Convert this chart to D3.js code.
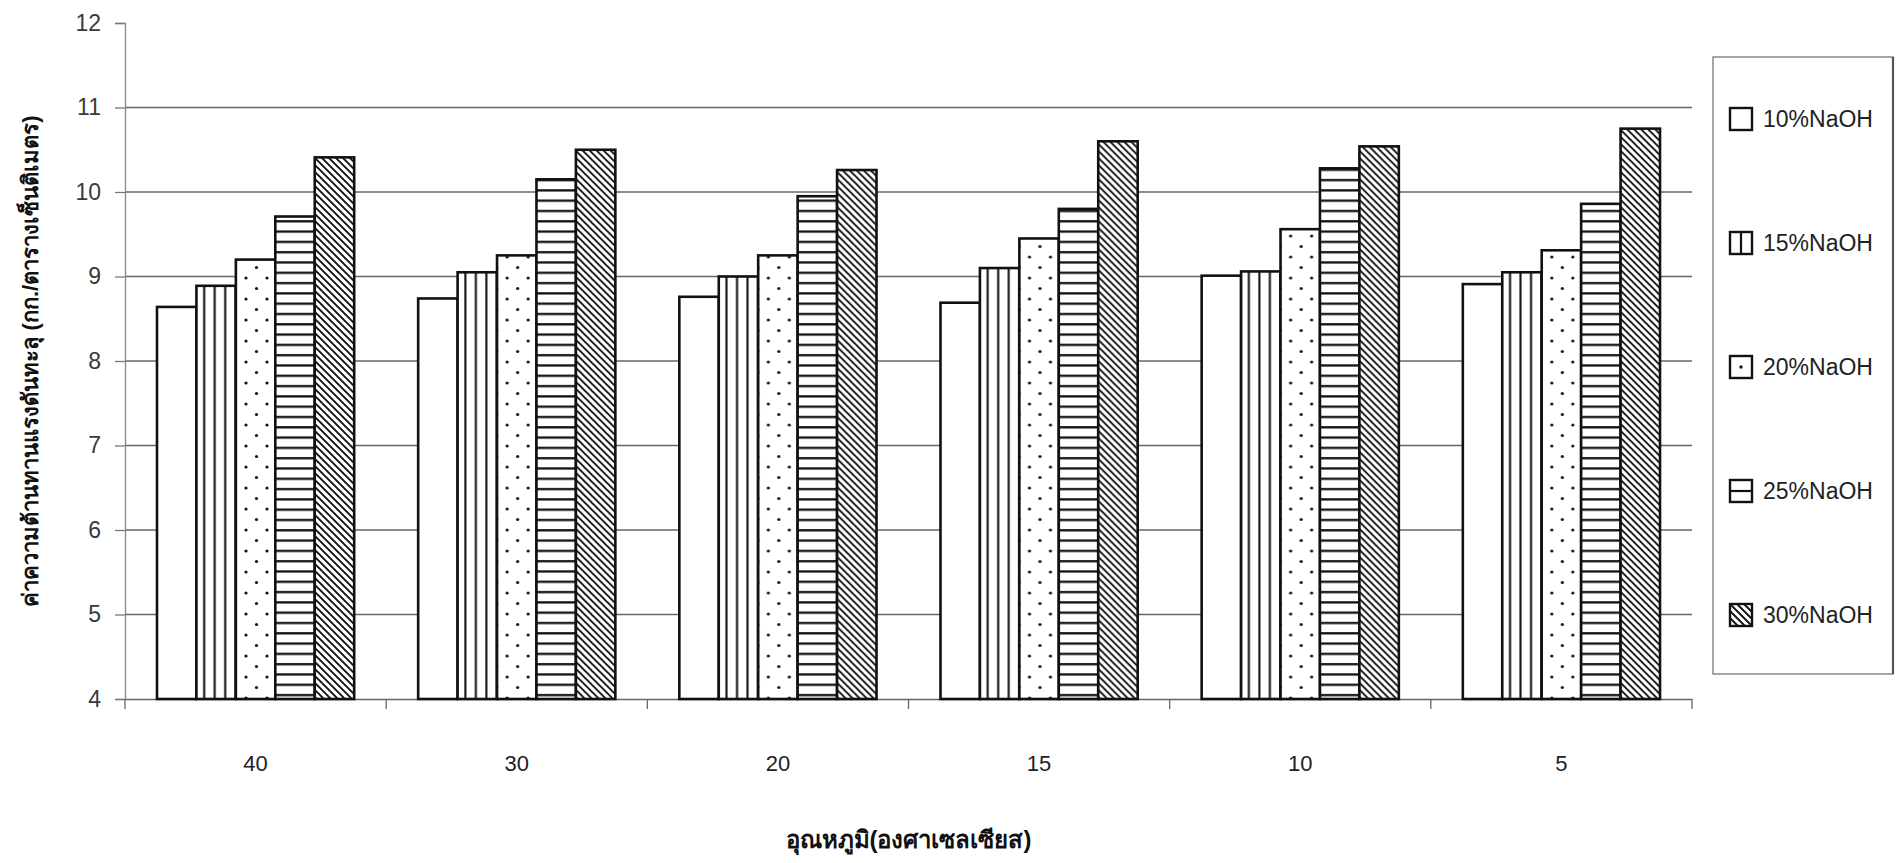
<!DOCTYPE html>
<html>
<head>
<meta charset="utf-8">
<script src="https://cdn.jsdelivr.net/npm/d3@7"></script>
<style>
  body { margin: 0; background: #fff; }
  svg { display: block; }
  text { font-family: Arial, "Liberation Sans", "Noto Sans", sans-serif; }
</style>
</head>
<body>
<svg id="chart" width="1900" height="863"></svg>
<script>
// Burst strength (kg/cm²) by soaking temperature for five NaOH concentrations
const temperatures = ["40", "30", "20", "15", "10", "5"];
const seriesNames = ["10%NaOH", "15%NaOH", "20%NaOH", "25%NaOH", "30%NaOH"];
const naoh10 = [8.64, 8.74, 8.76, 8.69, 9.01, 8.91];
const naoh15 = [8.89, 9.05, 9.00, 9.10, 9.06, 9.05];
const naoh20 = [9.20, 9.25, 9.25, 9.45, 9.56, 9.31];
const naoh25 = [9.71, 10.15, 9.95, 9.80, 10.28, 9.86];
const naoh30 = [10.41, 10.50, 10.26, 10.60, 10.54, 10.75];
const yTicks = [4, 5, 6, 7, 8, 9, 10, 11, 12];
const xTitle = "อุณหภูมิ(องศาเซลเซียส)";
const yTitle = "ค่าความต้านทานแรงดันทะลุ (กก./ตารางเซ็นติเมตร)";

const seriesValues = [naoh10, naoh15, naoh20, naoh25, naoh30];
const patternIds = ["none", "pVert", "pDots", "pHoriz", "pDiag"];

const svg = d3.select("#chart");
const plot = { left: 125, right: 1692, top: 23, bottom: 699 };

// ---- fill patterns ----
const defs = svg.append("defs");
const pv = defs.append("pattern").attr("id", "pVert").attr("patternUnits", "userSpaceOnUse")
  .attr("width", 10.5).attr("height", 10);
pv.append("rect").attr("width", 10.5).attr("height", 10).attr("fill", "#fff");
pv.append("line").attr("x1", 5.2).attr("x2", 5.2).attr("y1", 0).attr("y2", 10)
  .attr("stroke", "#111").attr("stroke-width", 2.1);

const pd = defs.append("pattern").attr("id", "pDots").attr("patternUnits", "userSpaceOnUse")
  .attr("width", 21).attr("height", 21);
pd.append("rect").attr("width", 21).attr("height", 21).attr("fill", "#fff");
pd.append("circle").attr("cx", 5).attr("cy", 5).attr("r", 1.6).attr("fill", "#111");
pd.append("circle").attr("cx", 15.5).attr("cy", 15.5).attr("r", 1.6).attr("fill", "#111");

const ph = defs.append("pattern").attr("id", "pHoriz").attr("patternUnits", "userSpaceOnUse")
  .attr("width", 10).attr("height", 10.3);
ph.append("rect").attr("width", 10).attr("height", 10.3).attr("fill", "#fff");
ph.append("line").attr("x1", 0).attr("x2", 10).attr("y1", 5).attr("y2", 5)
  .attr("stroke", "#111").attr("stroke-width", 2.3);

const pg = defs.append("pattern").attr("id", "pDiag").attr("patternUnits", "userSpaceOnUse")
  .attr("width", 7).attr("height", 7);
pg.append("rect").attr("width", 7).attr("height", 7).attr("fill", "#fff");
pg.append("path").attr("d", "M-1,-1 L8,8 M-1,6 L1,8 M6,-1 L8,1")
  .attr("stroke", "#111").attr("stroke-width", 1.9).attr("fill", "none");

// ---- scales ----
const x0 = d3.scaleBand().domain(temperatures).range([plot.left, plot.right])
  .paddingInner(0.245).paddingOuter(0.1225);
const x1 = d3.scaleBand().domain(seriesNames).range([0, x0.bandwidth()]);
const y = d3.scaleLinear().domain([4, 12]).range([plot.bottom, plot.top]);

// ---- gridlines ----
svg.append("g").selectAll("line")
  .data(yTicks.filter(d => d > 4 && d < 12))
  .join("line")
  .attr("x1", plot.left).attr("x2", plot.right)
  .attr("y1", d => y(d)).attr("y2", d => y(d))
  .attr("stroke", "#666").attr("stroke-width", 1.4);

// ---- y axis ----
const yAxis = svg.append("g").attr("transform", `translate(${plot.left},0)`)
  .call(d3.axisLeft(y).tickValues(yTicks).tickSize(10).tickPadding(14).tickFormat(d3.format("d")));
yAxis.select(".domain").attr("stroke", "#888").attr("stroke-width", 1.3);
yAxis.selectAll(".tick line").attr("stroke", "#777").attr("stroke-width", 1.3);
yAxis.selectAll(".tick text").attr("font-size", 23).attr("fill", "#3a3a3a")
  .attr("font-family", "Arial, 'Liberation Sans', sans-serif");

// ---- x axis ----
const xAxis = svg.append("g").attr("transform", `translate(0,${plot.bottom})`)
  .call(d3.axisBottom(x0).tickSize(0).tickPadding(56));
xAxis.select(".domain").attr("stroke", "#666").attr("stroke-width", 1.3);
xAxis.selectAll(".tick text").attr("font-size", 22).attr("fill", "#222")
  .attr("font-family", "Arial, 'Liberation Sans', sans-serif");
// tick marks between categories
const boundaries = temperatures.map((t, i) => i === 0 ? plot.left : (x0(temperatures[i - 1]) + x0.bandwidth() + x0(t)) / 2)
  .concat([plot.right]);
svg.append("g").selectAll("line").data(boundaries).join("line")
  .attr("x1", d => d).attr("x2", d => d)
  .attr("y1", plot.bottom).attr("y2", plot.bottom + 10)
  .attr("stroke", "#666").attr("stroke-width", 1.3);

// ---- bars ----
const groups = svg.append("g").selectAll("g")
  .data(temperatures)
  .join("g")
  .attr("transform", d => `translate(${x0(d)},0)`);

groups.selectAll("rect")
  .data((t, i) => seriesNames.map((s, k) => ({ series: s, k, value: seriesValues[k][i] })))
  .join("rect")
  .attr("x", d => x1(d.series))
  .attr("width", x1.bandwidth())
  .attr("y", d => y(d.value))
  .attr("height", d => y(4) - y(d.value))
  .attr("fill", d => d.k === 0 ? "#fff" : `url(#${patternIds[d.k]})`)
  .attr("stroke", "#111")
  .attr("stroke-width", 2.6);

// ---- legend ----
const legend = svg.append("g");
legend.append("rect")
  .attr("x", 1713).attr("y", 57).attr("width", 180).attr("height", 617)
  .attr("fill", "#fff").attr("stroke", "#777").attr("stroke-width", 1.3);
legend.append("line").attr("x1", 1893).attr("x2", 1893).attr("y1", 57).attr("y2", 674)
  .attr("stroke", "#555").attr("stroke-width", 2.2);

const legendY = d3.scalePoint().domain(seriesNames).range([119, 615]);
const sw = 22;
const items = legend.selectAll("g.item").data(seriesNames).join("g")
  .attr("class", "item")
  .attr("transform", d => `translate(1730,${legendY(d)})`);

items.append("rect")
  .attr("x", 0).attr("y", -sw / 2).attr("width", sw).attr("height", sw)
  .attr("fill", "#fff").attr("stroke", "#111").attr("stroke-width", 2.4);

items.each(function (d, k) {
  const g = d3.select(this);
  if (k === 1) {
    g.append("line").attr("x1", sw / 2).attr("x2", sw / 2).attr("y1", -sw / 2).attr("y2", sw / 2)
      .attr("stroke", "#111").attr("stroke-width", 2.2);
  } else if (k === 2) {
    g.append("circle").attr("cx", sw / 2).attr("cy", 0).attr("r", 1.7).attr("fill", "#111");
  } else if (k === 3) {
    g.append("line").attr("x1", 0).attr("x2", sw).attr("y1", 0).attr("y2", 0)
      .attr("stroke", "#111").attr("stroke-width", 2.2);
  } else if (k === 4) {
    g.append("path")
      .attr("d", `M0,${-sw / 2} L${sw},${sw / 2} M0,${-sw / 2 + 7} L${sw - 7},${sw / 2} M7,${-sw / 2} L${sw},${sw / 2 - 7} M0,${-sw / 2 + 14} L${sw - 14},${sw / 2} M14,${-sw / 2} L${sw},${sw / 2 - 14}`)
      .attr("stroke", "#111").attr("stroke-width", 1.8).attr("fill", "none");
  }
});

items.append("text")
  .attr("x", 33).attr("y", 0).attr("dy", "0.36em")
  .attr("font-size", 23).attr("fill", "#222")
  .text(d => d);

// ---- axis titles ----
svg.append("text")
  .attr("x", (plot.left + plot.right) / 2).attr("y", 848)
  .attr("text-anchor", "middle").attr("font-size", 24).attr("font-weight", "bold").attr("fill", "#111")
  .text(xTitle);

svg.append("text")
  .attr("transform", `translate(38,${(plot.top + plot.bottom) / 2}) rotate(-90)`)
  .attr("text-anchor", "middle").attr("font-size", 22).attr("font-weight", "bold").attr("fill", "#111")
  .text(yTitle);
</script>
</body>
</html>
